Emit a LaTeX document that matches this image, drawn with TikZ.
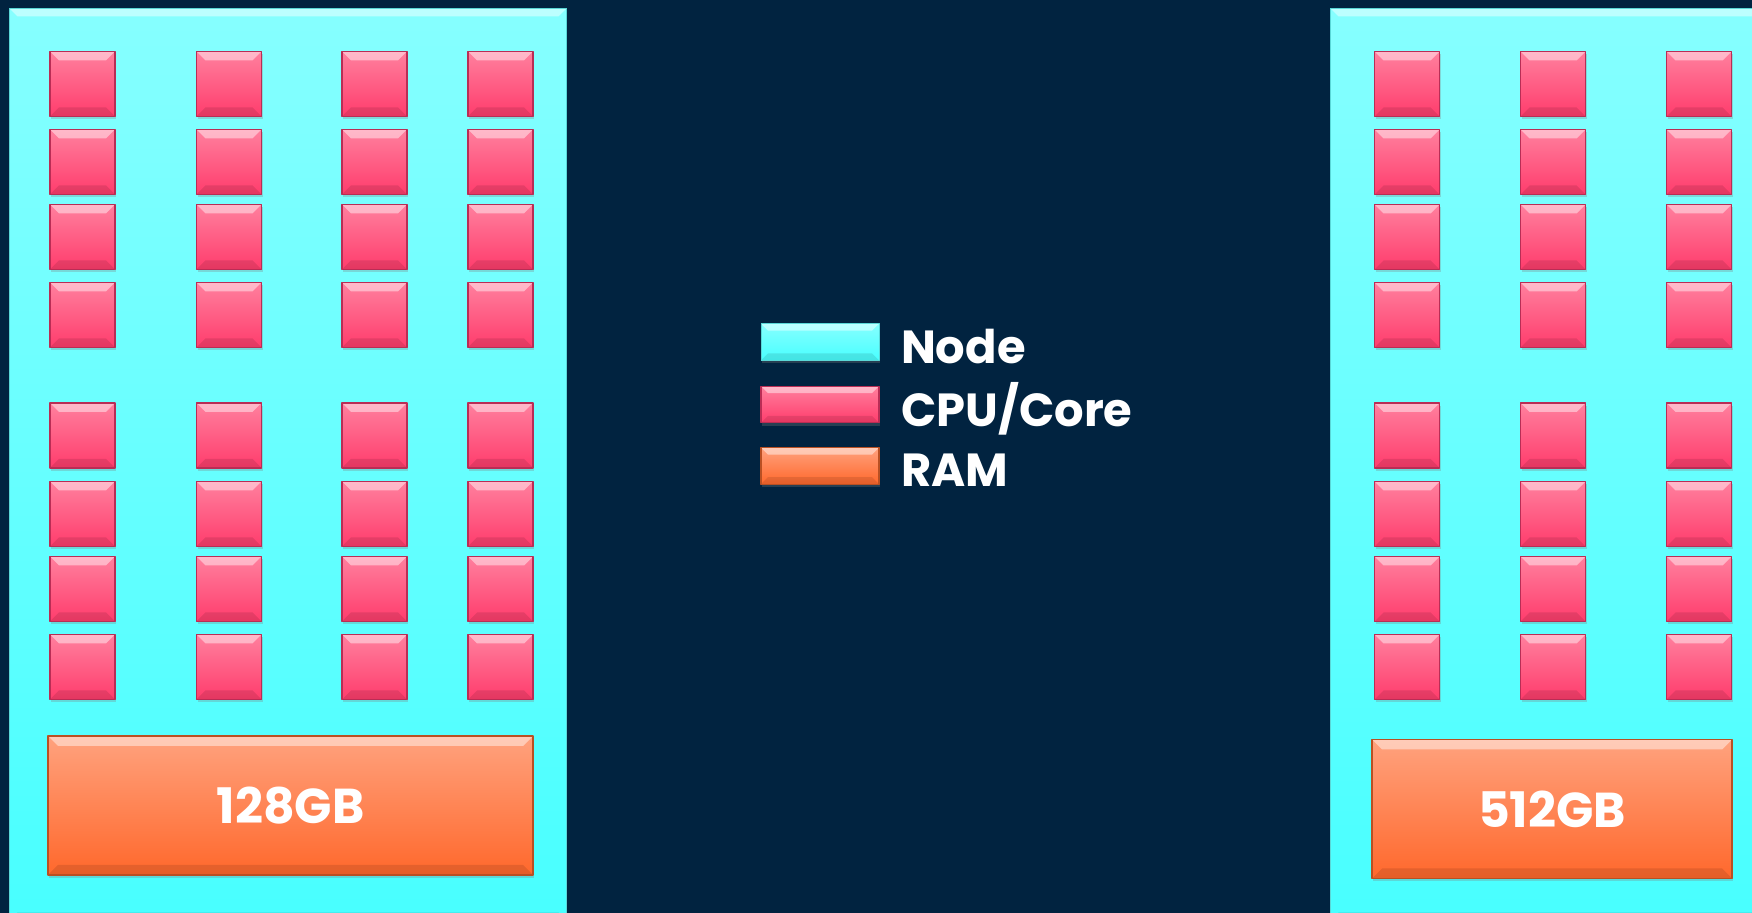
\documentclass[tikz,border=0pt]{standalone}
\usepackage{fontspec}
\setmainfont{Poppins}
\usetikzlibrary{positioning,shadows}
\definecolor{navy}{RGB}{1,35,64}
\definecolor{nodetop}{RGB}{134,255,255}
\definecolor{nodebot}{RGB}{72,255,255}
\definecolor{nodeedge}{RGB}{90,215,215}
\definecolor{cputop}{RGB}{255,128,158}
\definecolor{cpubot}{RGB}{255,60,108}
\definecolor{cpuedge}{RGB}{185,45,85}
\definecolor{ramtop}{RGB}{255,162,126}
\definecolor{rambot}{RGB}{255,104,44}
\definecolor{ramedge}{RGB}{185,80,35}
\tikzset{
	bevel/.style={path picture={
		\fill[white,opacity=.45] (path picture bounding box.north west)--(path picture bounding box.north east)--([shift={(-#1,-#1)}]path picture bounding box.north east)--([shift={(#1,-#1)}]path picture bounding box.north west)--cycle;
		\fill[black,opacity=.1] (path picture bounding box.south west)--(path picture bounding box.south east)--([shift={(-#1,#1)}]path picture bounding box.south east)--([shift={(#1,#1)}]path picture bounding box.south west)--cycle;}},
	cyanfill/.style={draw=nodeedge, line width=.5pt, top color=nodetop, bottom color=nodebot},
	pinkfill/.style={draw=cpuedge, line width=.6pt, top color=cputop, bottom color=cpubot},
	orangefill/.style={draw=ramedge, line width=.6pt, top color=ramtop, bottom color=rambot},
	softshadow/.style={drop shadow={shadow xshift=.5pt, shadow yshift=-1.5pt, opacity=.3}},
	hpcnode/.style={cyanfill, anchor=north west, minimum height=456pt, inner sep=0pt, bevel=4pt},
	cpu/.style={pinkfill, minimum width=32.5pt, minimum height=32.5pt, inner sep=0pt, bevel=4.5pt, softshadow},
	ram/.style={orangefill, minimum height=69.5pt, inner sep=0pt, bevel=5pt, softshadow, text=white, font=\bfseries\fontsize{24.5}{28}\selectfont},
	swatch/.style={minimum width=59pt, minimum height=18.3pt, inner sep=0pt, bevel=3.5pt, softshadow},
	legtext/.style={anchor=base west, text=white, font=\bfseries\fontsize{23.2}{28}\selectfont}
}
\begin{document}
\begin{tikzpicture}[x=0.5pt, y=-0.5pt, line join=round]
	\useasboundingbox[fill=navy] (0,0) rectangle (1752,913);
	\node[hpcnode, minimum width=278.5pt] (nodeL) at (9,8) {};
	\node[hpcnode, minimum width=215pt] (nodeR) at (1330,8) {};
	\foreach \y [count=\j] in {84,162,237,315,435.5,514,589,667}{
		\foreach \x [count=\i] in {82.5,229,374.5,500.5}
			\node[cpu] (cL-\j-\i) at (\x,\y) {};
		\foreach \x [count=\i] in {1407,1553,1699}
			\node[cpu] (cR-\j-\i) at (\x,\y) {};
	}
	\node[ram, minimum width=242.5pt] (ramL) at (290.5,805.5) {128GB};
	\node[ram, minimum width=180pt] (ramR) at (1552,809) {512GB};
	\node[swatch, cyanfill] (kNode) at (820,342) {};
	\node[swatch, pinkfill, below=12.4pt of kNode] (kCPU) {};
	\node[swatch, orangefill, below=11.8pt of kCPU] (kRAM) {};
	\node[legtext] (tNode) at (894,364) {Node};
	\node[legtext] (tCPU) at (894,426.5) {CPU/Core};
	\node[legtext] (tRAM) at (894,486.5) {RAM};
\end{tikzpicture}
\end{document}
